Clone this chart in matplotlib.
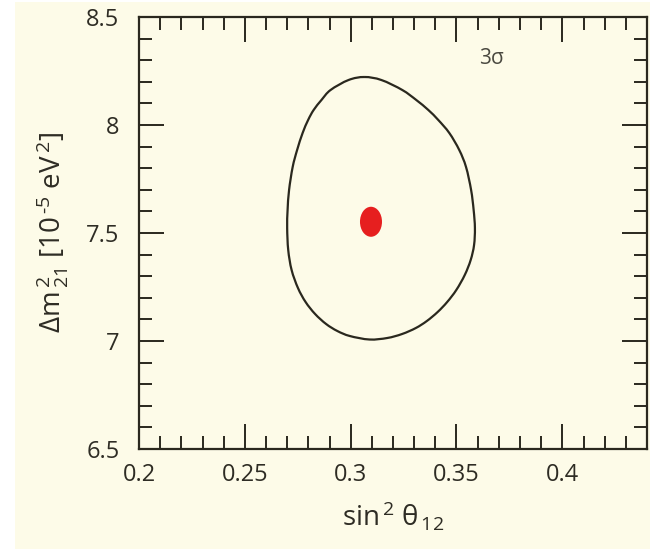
import numpy as np
import matplotlib
matplotlib.use("Agg")
import matplotlib.pyplot as plt
from matplotlib.path import Path
from matplotlib.patches import PathPatch, Ellipse, Rectangle
from matplotlib.ticker import MultipleLocator

plt.rcParams["font.family"] = ["Open Sans", "DejaVu Sans"]
plt.rcParams["mathtext.fontset"] = "custom"
plt.rcParams["mathtext.rm"] = "Open Sans"
plt.rcParams["mathtext.it"] = "Open Sans"
plt.rcParams["mathtext.sf"] = "Open Sans"

# 3-sigma allowed region (sin^2 theta12, dm2_21 in 1e-5 eV^2), clockwise from the top
contour_s12 = [0.3065, 0.3145, 0.3244, 0.3310, 0.3367, 0.3414, 0.3466, 0.3513,
               0.3545, 0.3569, 0.3581, 0.3587, 0.3583, 0.3567, 0.3539, 0.3499,
               0.3456, 0.3411, 0.3360, 0.3308, 0.3243, 0.3173, 0.3089, 0.2996,
               0.2937, 0.2884, 0.2832, 0.2787, 0.2751, 0.2721, 0.2705, 0.2700,
               0.2702, 0.2709, 0.2726, 0.2747, 0.2773, 0.2799, 0.2825, 0.2862,
               0.2905, 0.2990]
contour_dm2 = [8.2222, 8.2083, 8.1620, 8.1157, 8.0694, 8.0231, 7.9630, 7.8843,
               7.8056, 7.6991, 7.6065, 7.5231, 7.4444, 7.3750, 7.3056, 7.2361,
               7.1806, 7.1343, 7.0926, 7.0602, 7.0324, 7.0139, 7.0069, 7.0231,
               7.0463, 7.0787, 7.1250, 7.1806, 7.2454, 7.3287, 7.4213, 7.5231,
               7.6065, 7.6991, 7.8056, 7.8843, 7.9630, 8.0231, 8.0694, 8.1157,
               8.1620, 8.2083]

# best-fit point and its extent
best_s12 = 0.3096
best_dm2 = 7.552
best_w = 0.0104
best_h = 0.139

x_ticks = [0.2, 0.25, 0.3, 0.35, 0.4]
x_tick_labels = ["0.2", "0.25", "0.3", "0.35", "0.4"]
y_ticks = [6.5, 7, 7.5, 8, 8.5]
y_tick_labels = ["6.5", "7", "7.5", "8", "8.5"]

cream = "#fdfbe8"
ink = "#2a281e"
text_ink = "#2e2c24"

fig = plt.figure(figsize=(6.5, 5.49), dpi=100, facecolor="white")
fig.patches.append(Rectangle((15 / 650, 0), 1 - 15 / 650, 1 - 2 / 549,
                             transform=fig.transFigure, facecolor=cream,
                             edgecolor="none", zorder=-10))

ax = fig.add_axes([139 / 650, 1 - 449 / 549, (647 - 139) / 650, (449 - 17) / 549])
ax.set_facecolor(cream)
ax.set_xlim(0.2, 0.44)
ax.set_ylim(6.5, 8.5)

# smooth closed curve through the contour points (Catmull-Rom -> cubic Bezier)
pts = np.column_stack([contour_s12, contour_dm2])
n = len(pts)
verts = [pts[0]]
codes = [Path.MOVETO]
for i in range(n):
    p0, p1, p2, p3 = pts[i - 1], pts[i], pts[(i + 1) % n], pts[(i + 2) % n]
    c1 = p1 + (p2 - p0) / 6.0
    c2 = p2 - (p3 - p1) / 6.0
    verts += [c1, c2, p2]
    codes += [Path.CURVE4] * 3
ax.add_patch(PathPatch(Path(verts, codes), facecolor="none", edgecolor=ink,
                       linewidth=1.6, zorder=3))

ax.add_patch(Ellipse((best_s12, best_dm2), best_w, best_h, facecolor="#e61f1f",
                     edgecolor="none", zorder=4))

ax.text(0.696, 0.905, r"3$\sigma$", transform=ax.transAxes, ha="center",
        va="center", fontsize=15, color="#4a4940")

ax.set_xticks(x_ticks)
ax.set_xticklabels(x_tick_labels)
ax.set_yticks(y_ticks)
ax.set_yticklabels(y_tick_labels)
ax.xaxis.set_minor_locator(MultipleLocator(0.01))
ax.yaxis.set_minor_locator(MultipleLocator(0.1))

ax.tick_params(which="both", direction="in", top=True, right=True,
               color=ink, width=1.4)
ax.tick_params(which="major", length=18, labelsize=17, labelcolor=text_ink)
ax.tick_params(which="minor", length=9.5)
ax.tick_params(axis="x", which="major", pad=10)
ax.tick_params(axis="y", which="major", pad=14)

for s in ax.spines.values():
    s.set_color(ink)
    s.set_linewidth(1.6)

ax.set_xlabel(r"sin$^{\,2}$ $\theta_{\,12}$", fontsize=20, color=text_ink,
              labelpad=9)
ax.set_ylabel("$\\Delta$m$^{\\,2}_{\\,21}$ [10$^{\\,\u2010 5}$ eV$^{\\,2}$]",
              fontsize=20, color=text_ink, labelpad=12)

fig.savefig("out.png", dpi=100, facecolor=fig.get_facecolor())
